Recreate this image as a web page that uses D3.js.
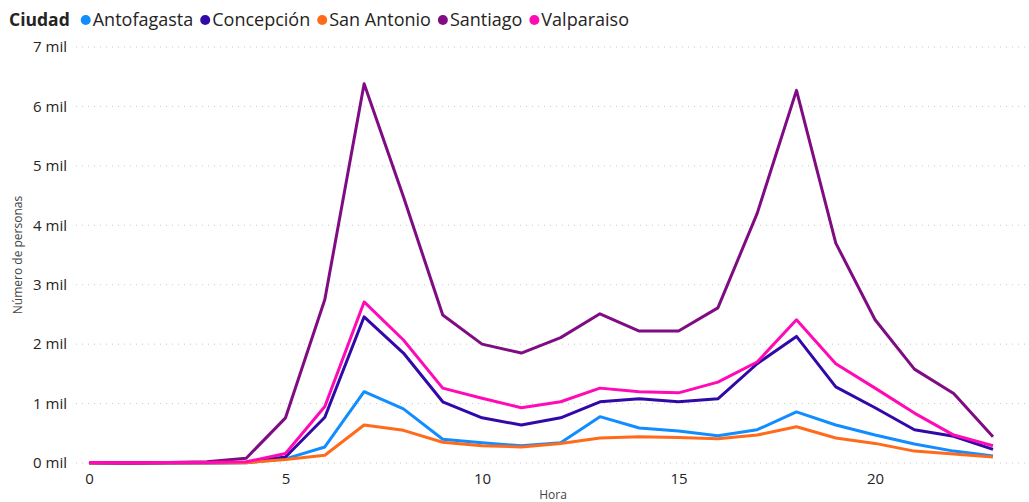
<!DOCTYPE html>
<html>
<head>
<meta charset="utf-8">
<script src="https://cdn.jsdelivr.net/npm/d3@7"></script>
<style>
  body { margin: 0; background: #fff; }
  svg { font-family: "Open Sans", "Noto Sans", sans-serif; }
</style>
</head>
<body>
<div id="chart"></div>
<script>
var hours = d3.range(0, 24);
var cities = ["Antofagasta", "Concepción", "San Antonio", "Santiago", "Valparaiso"];
var colors = ["#118DFF", "#3109A8", "#FF6A1C", "#7F0C82", "#FF0AB4"];

var antofagasta = [0, 0, 0, 0, 5, 70, 270, 1200, 910, 400, 340, 290, 340, 780, 590, 540, 460, 560, 860, 640, 470, 320, 200, 120];
var concepcion  = [0, 0, 0, 5, 10, 100, 770, 2460, 1850, 1030, 760, 640, 760, 1030, 1080, 1030, 1080, 1670, 2130, 1280, 930, 560, 450, 230];
var sanAntonio  = [0, 0, 0, 0, 5, 60, 130, 640, 550, 350, 290, 270, 330, 420, 440, 430, 410, 470, 610, 420, 330, 200, 150, 100];
var santiago    = [10, 0, 10, 20, 80, 760, 2750, 6380, 4480, 2490, 2000, 1850, 2110, 2510, 2220, 2220, 2610, 4200, 6270, 3700, 2410, 1580, 1170, 440];
var valparaiso  = [10, 5, 10, 10, 20, 160, 950, 2710, 2070, 1260, 1090, 930, 1030, 1260, 1200, 1180, 1360, 1700, 2410, 1670, 1260, 840, 470, 290];

var seriesValues = [antofagasta, concepcion, sanAntonio, santiago, valparaiso];
var yTicks = [0, 1000, 2000, 3000, 4000, 5000, 6000, 7000];
var xTicks = [0, 5, 10, 15, 20];

var W = 1029, H = 502;
var svg = d3.select("#chart").append("svg")
  .attr("width", W).attr("height", H);

var x = d3.scaleLinear().domain([0, 23]).range([89, 993]);
var y = d3.scaleLinear().domain([0, 7000]).range([463, 47]);

// gridlines
svg.append("g").selectAll("line")
  .data(yTicks).enter().append("line")
  .attr("x1", 76).attr("x2", W)
  .attr("y1", function(d) { return y(d); })
  .attr("y2", function(d) { return y(d); })
  .attr("stroke", "#c8c8c8")
  .attr("stroke-width", 1)
  .attr("stroke-dasharray", "1,5");

// y axis
var yAxis = svg.append("g")
  .attr("transform", "translate(67,0)")
  .call(d3.axisLeft(y).tickValues(yTicks).tickSize(0).tickPadding(0)
    .tickFormat(function(d) { return (d / 1000) + " mil"; }));
yAxis.select(".domain").remove();
yAxis.selectAll("text")
  .attr("font-size", 15).attr("fill", "#252423")
  .attr("font-family", "Open Sans, sans-serif");

// x axis
var xAxis = svg.append("g")
  .attr("transform", "translate(0,470)")
  .call(d3.axisBottom(x).tickValues(xTicks).tickSize(0).tickPadding(0));
xAxis.select(".domain").remove();
xAxis.selectAll("text")
  .attr("font-size", 15).attr("fill", "#252423")
  .attr("dy", "0.9em")
  .attr("font-family", "Open Sans, sans-serif");

// axis titles
svg.append("text")
  .attr("x", 553).attr("y", 499)
  .attr("text-anchor", "middle")
  .attr("font-size", 12).attr("fill", "#444")
  .text("Hora");

svg.append("text")
  .attr("transform", "translate(22,255) rotate(-90)")
  .attr("text-anchor", "middle")
  .attr("font-size", 12).attr("fill", "#444")
  .text("Número de personas");

// lines
var line = d3.line()
  .x(function(d, i) { return x(hours[i]); })
  .y(function(d) { return y(d); });

svg.append("g").selectAll("path")
  .data(seriesValues).enter().append("path")
  .attr("d", line)
  .attr("fill", "none")
  .attr("stroke", function(d, i) { return colors[i]; })
  .attr("stroke-width", 3)
  .attr("stroke-linejoin", "round");

// legend
var legend = svg.append("g");
var title = legend.append("text")
  .attr("x", 9).attr("y", 26)
  .attr("font-size", 17.5).attr("font-weight", "bold").attr("fill", "#252423")
  .text("Ciudad");
var cx = 9 + title.node().getComputedTextLength() + 16;
cities.forEach(function(c, i) {
  legend.append("circle")
    .attr("cx", cx).attr("cy", 20).attr("r", 5)
    .attr("fill", colors[i]);
  var t = legend.append("text")
    .attr("x", cx + 7).attr("y", 26)
    .attr("font-size", 18).attr("fill", "#252423")
    .text(c);
  cx += 7 + t.node().getComputedTextLength() + 12;
});
</script>
</body>
</html>
